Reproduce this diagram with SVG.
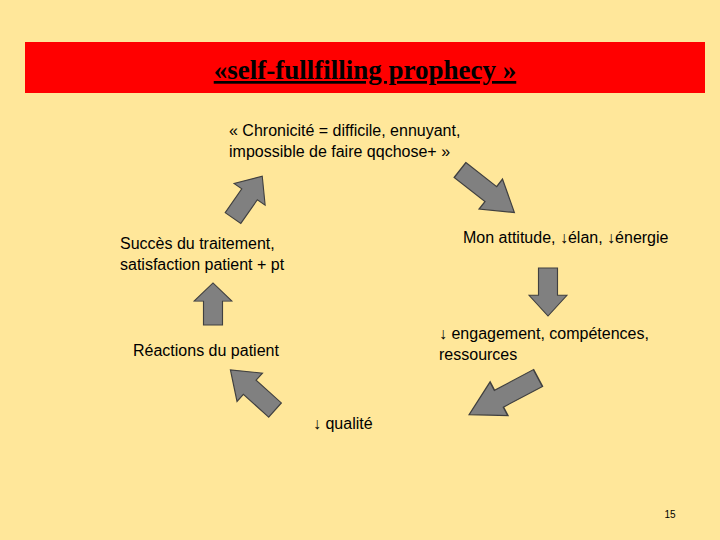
<svg xmlns="http://www.w3.org/2000/svg" width="720" height="540" viewBox="0 0 720 540">
<style>
.t{font-family:"Liberation Sans",Arial,sans-serif;font-size:16px;fill:#000}
.ar{fill:#808080;stroke:#404040;stroke-width:1.2}
</style>
<defs><polygon id="a" points="0,-10 34,-10 34,-20 60,0 34,20 34,10 0,10"/></defs>
<rect width="720" height="540" fill="#FFE79A"/>
<g id="title"><rect x="25" y="42" width="680" height="51" fill="#FF0000"/>
<text x="365" y="79" text-anchor="middle" font-family="Liberation Serif,serif" font-weight="bold" font-size="27" text-decoration="underline"> «self-fullfilling prophecy »</text></g>
<g id="n1"><text class="t" x="229" y="136">« Chronicité = difficile, ennuyant,</text><text class="t" x="229" y="157">impossible de faire qqchose+ »</text></g>
<g id="n2"><text class="t" x="463" y="243">Mon attitude, ↓élan, ↓énergie</text></g>
<g id="n3"><text class="t" x="439" y="339">↓ engagement, compétences,</text><text class="t" x="439" y="360">ressources</text></g>
<g id="n4"><text class="t" x="313" y="429">↓ qualité</text></g>
<g id="n5"><text class="t" x="133" y="356">Réactions du patient</text></g>
<g id="n6"><text class="t" x="120" y="249">Succès du traitement,</text><text class="t" x="120" y="270">satisfaction patient + pt</text></g>
<g id="connectors">
<use href="#a" class="ar" transform="translate(233,218) rotate(-55) scale(0.85,0.95)"/>
<use href="#a" class="ar" transform="translate(460,170) rotate(38) scale(1.15,0.95)"/>
<use href="#a" class="ar" transform="translate(548,268) rotate(90) scale(0.8,0.95)"/>
<use href="#a" class="ar" transform="translate(538,378) rotate(152) scale(1.3,0.95)"/>
<use href="#a" class="ar" transform="translate(275,410) rotate(222) scale(1.0,0.95)"/>
<use href="#a" class="ar" transform="translate(213,325) rotate(-90) scale(0.7,0.95)"/>
</g>
<text x="670" y="518" text-anchor="middle" font-family="Liberation Sans,sans-serif" font-size="10">15</text>
</svg>
